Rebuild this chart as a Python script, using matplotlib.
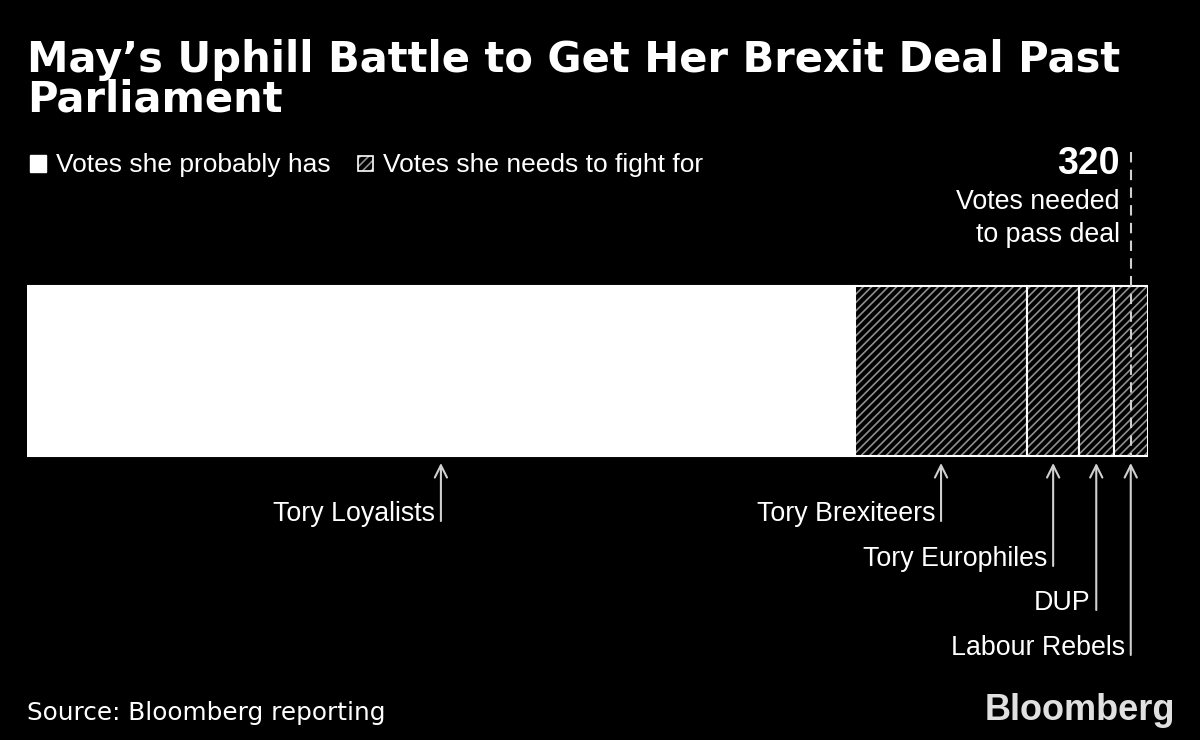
import matplotlib
matplotlib.use("Agg")
import matplotlib.pyplot as plt
from matplotlib.patches import Rectangle

groups = ["Tory Loyalists", "Tory Brexiteers", "Tory Europhiles", "DUP", "Labour Rebels"]
votes = [240, 50, 15, 10, 10]
secure = [True, False, False, False, False]
threshold = 320
legend_labels = ["Votes she probably has", "Votes she needs to fight for"]

BG = "black"
FG = "white"
GRAY = "#d0d0d0"
HATCH = "#8f8f8f"

plt.rcParams["hatch.linewidth"] = 1.2

fig = plt.figure(figsize=(12, 7.4), dpi=100, facecolor=BG)

# overlay axes in pixel coordinates for texts
ov = fig.add_axes([0, 0, 1, 1])
ov.set_xlim(0, 1200)
ov.set_ylim(740, 0)
ov.axis("off")

# main bar axes: x in votes, y in pixel units
total = sum(votes)
ax = fig.add_axes([27 / 1200, 70 / 740, 1121 / 1200, 530 / 740])
ax.set_xlim(0, total)
ax.set_ylim(670, 140)
ax.axis("off")
ax.patch.set_alpha(0)

ytop, ybot = 286, 456
yc = (ytop + ybot) / 2
h = ybot - ytop

left = 0
centers = []
for g, v, s in zip(groups, votes, secure):
    if s:
        ax.barh(yc, v, left=left, height=h, color=FG, edgecolor=FG, linewidth=1.5)
    else:
        ax.barh(yc, v, left=left, height=h, color=BG, edgecolor=HATCH, hatch="////", linewidth=0)
        ax.barh(yc, v, left=left, height=h, color="none", edgecolor=FG, linewidth=1.5)
    centers.append(left + v / 2)
    left += v

# threshold dashed line
ax.plot([threshold, threshold], [152, ybot], color=GRAY, lw=1.5, ls=(0, (5, 3.5)), zorder=5)

# arrows and labels
arrow_bottoms = [521, 521, 566, 610, 655]
for g, c, yb in zip(groups, centers, arrow_bottoms):
    ax.annotate("", xy=(c, 463), xytext=(c, yb),
                arrowprops=dict(arrowstyle="->", color=GRAY, lw=1.5,
                                mutation_scale=22, shrinkA=0, shrinkB=0))
    ax.annotate(g, xy=(c, yb), xytext=(-4, 0), textcoords="offset points",
                ha="right", va="baseline", color=FG, fontsize=19.3,
                family="Liberation Sans")

# title
ov.text(27, 72, "May\u2019s Uphill Battle to Get Her Brexit Deal Past",
        color=FG, fontsize=30, fontweight="bold", family="DejaVu Sans",
        ha="left", va="baseline")
ov.text(27, 112, "Parliament", color=FG, fontsize=30, fontweight="bold",
        family="DejaVu Sans", ha="left", va="baseline")

# legend
ov.add_patch(Rectangle((30, 155), 16, 17, facecolor=FG, edgecolor=FG, lw=1))
ov.text(56, 172, legend_labels[0], color=FG, fontsize=19, family="Liberation Sans",
        ha="left", va="baseline")
ov.add_patch(Rectangle((358, 156), 15, 15, facecolor=BG, edgecolor=HATCH, hatch="////", lw=0))
ov.add_patch(Rectangle((358, 156), 15, 15, facecolor="none", edgecolor=FG, lw=1.2))
ov.text(383, 172, legend_labels[1], color=FG, fontsize=19, family="Liberation Sans",
        ha="left", va="baseline")

# threshold annotation
ov.text(1120, 174, str(threshold), color=FG, fontsize=27, fontweight="bold",
        family="Liberation Sans", ha="right", va="baseline")
ov.text(1120, 209, "Votes needed", color=FG, fontsize=19.3, family="Liberation Sans",
        ha="right", va="baseline")
ov.text(1120, 242, "to pass deal", color=FG, fontsize=19.3, family="Liberation Sans",
        ha="right", va="baseline")

# footer
ov.text(27, 720, "Source: Bloomberg reporting", color=FG, fontsize=17.8,
        family="DejaVu Sans", ha="left", va="baseline")
ov.text(1175, 720, "Bloomberg", color="#e0e0e0", fontsize=26, fontweight="bold",
        family="Liberation Sans", ha="right", va="baseline")

fig.savefig("out.png", dpi=100, facecolor=BG)
